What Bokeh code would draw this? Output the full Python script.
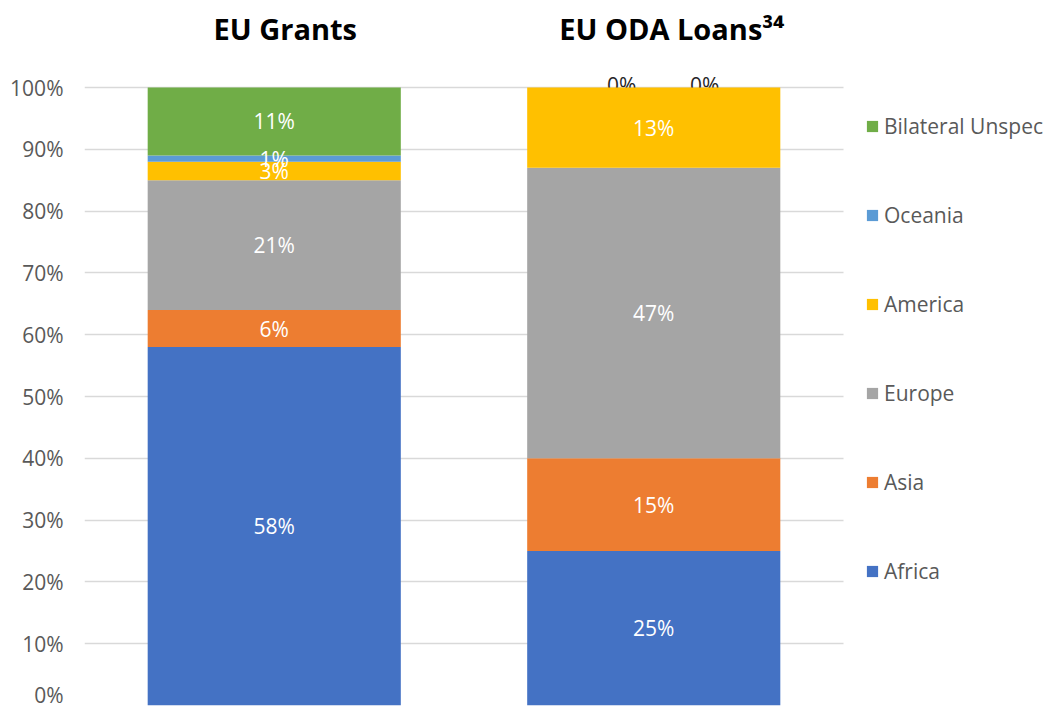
from bokeh.plotting import figure
from bokeh.models import ColumnDataSource, Legend, LegendItem, Label, Range1d, FixedTicker
from bokeh.core.properties import value
from bokeh.embed import file_html
from bokeh.resources import INLINE

# ---- data ----
groups = ["EU Grants", "EU ODA Loans"]
titles = ["EU Grants", "EU ODA Loans³⁴"]
regions = ["Africa", "Asia", "Europe", "America", "Oceania", "Bilateral Unspec"]
grants = [58, 6, 21, 3, 1, 11]
loans = [25, 15, 47, 13, 0, 0]
colors = ["#4472C4", "#ED7D31", "#A5A5A5", "#FFC000", "#5B9BD5", "#70AD47"]
y_ticks = [0, 10, 20, 30, 40, 50, 60, 70, 80, 90, 100]

FONT = "Open Sans"
GREY = "#595959"
FS = "21px"

xpos = [i + 0.5 for i in range(len(groups))]
data = {"x": xpos, "group": groups}
for r, g, l in zip(regions, grants, loans):
    data[r] = [g, l]
src = ColumnDataSource(data)

# segment labels
in_x, in_y, in_t = [], [], []
zero_x, zero_y, zero_t, zero_off = [], [], [], []
zero_offsets = [-32, 51]
for xp, vals in zip(xpos, [grants, loans]):
    cum = 0
    k = 0
    for v in vals:
        if v > 0:
            in_x.append(xp); in_y.append(cum + v / 2); in_t.append(f"{v}%")
        else:
            zero_x.append(xp); zero_y.append(cum); zero_t.append(f"{v}%")
            zero_off.append(zero_offsets[k % len(zero_offsets)]); k += 1
        cum += v

W, H = 1044, 708
LEFT, BOTTOM = 84, 3
frame_w = W - LEFT
px_per_x = 379.5
x_end = frame_w / px_per_x
frame_h = H - BOTTOM
px_per_y = (705 - 87) / 100.0
y_end = frame_h / px_per_y

p = figure(x_range=Range1d(0, x_end), y_range=Range1d(0, y_end),
           width=W, height=H, output_backend="svg", toolbar_location=None,
           x_axis_location=None,
           min_border_left=LEFT, min_border_right=0, min_border_top=0, min_border_bottom=BOTTOM)
p.outline_line_color = None
p.background_fill_color = "white"
p.border_fill_color = "white"
p.xgrid.visible = False
p.ygrid.ticker = FixedTicker(ticks=y_ticks)
p.ygrid.grid_line_color = "#D9D9D9"
p.ygrid.grid_line_width = 1.5
p.ygrid.cross_bounds = (0, len(groups))

ax = p.yaxis[0]
ax.ticker = FixedTicker(ticks=y_ticks)
ax.major_label_overrides = {t: f"{t}%" for t in y_ticks}
ax.axis_line_color = None
ax.major_tick_line_color = None
ax.minor_tick_line_color = None
ax.major_label_standoff = 15
ax.major_label_text_font = FONT
ax.major_label_text_font_size = FS
ax.major_label_text_color = GREY

# zero-valued labels (drawn behind the bars)
zsrc = ColumnDataSource(dict(x=zero_x, y=zero_y, t=zero_t, off=zero_off))
p.text(x="x", y="y", text="t", x_offset="off", y_offset=-3, source=zsrc, text_align="center",
       text_baseline="middle", text_color="#262626", text_font=value(FONT),
       text_font_size=FS)

rends = p.vbar_stack(regions, x="x", width=0.667, color=colors, line_color=None, source=src)

isrc = ColumnDataSource(dict(x=in_x, y=in_y, t=in_t))
p.text(x="x", y="y", text="t", source=isrc, text_align="center", text_baseline="middle",
       text_color="white", text_font=value(FONT), text_font_size=FS)

title_y = 100 + (87 - 27.5) / px_per_y
for xp, ttl, off in zip(xpos, titles, [11, 18]):
    p.add_layout(Label(x=xp, y=title_y, x_offset=off, text=ttl, text_align="center",
                       text_baseline="middle", text_font=FONT, text_font_size="29px",
                       text_font_style="bold", text_color="black"))

items = [LegendItem(label=r, renderers=[rd]) for r, rd in reversed(list(zip(regions, rends)))]
legend = Legend(items=items, location=(865 - LEFT, 120), orientation="vertical", spacing=61,
                glyph_width=14, glyph_height=14, label_height=20, label_standoff=5,
                padding=0, margin=0, border_line_color=None, background_fill_alpha=0,
                label_text_font=FONT, label_text_font_size=FS, label_text_color=GREY)
p.add_layout(legend, "center")

open("out.html", "w").write(file_html(p, INLINE))
